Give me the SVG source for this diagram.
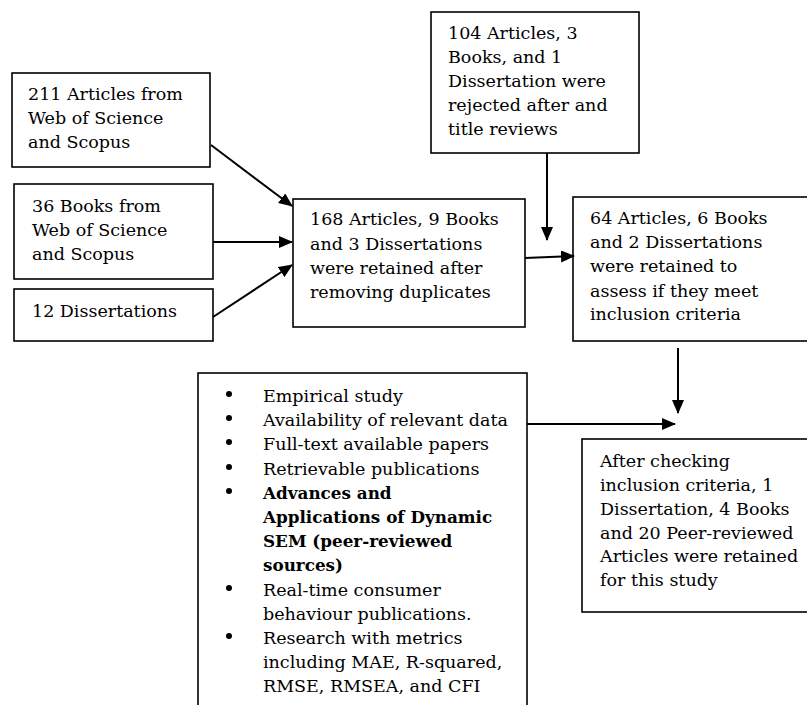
<svg xmlns="http://www.w3.org/2000/svg" width="807" height="705" viewBox="0 0 807 705">
<style>
.box{fill:#fff;stroke:#000;stroke-width:1.6}
.t{font-family:"DejaVu Serif","Liberation Serif",serif;font-size:17.5px;fill:#000}
.b{font-weight:bold;font-size:16.8px}
.c{stroke:#000;stroke-width:2;fill:none}
</style>
<defs>
<marker id="ah" markerUnits="userSpaceOnUse" markerWidth="14" markerHeight="12" refX="13" refY="6" orient="auto">
<path d="M0,0 L14,6 L0,12 Z" fill="#000"/>
</marker>
</defs>
<rect width="807" height="705" fill="#fff"/>
<g id="n-articles">
<rect class="box" x="12" y="73" width="198" height="94"/>
<text class="t" x="28" y="100">211 Articles from</text>
<text class="t" x="28" y="124">Web of Science</text>
<text class="t" x="28" y="148">and Scopus</text>
</g>
<g id="n-books">
<rect class="box" x="14" y="184" width="199" height="95"/>
<text class="t" x="32" y="212">36 Books from</text>
<text class="t" x="32" y="236">Web of Science</text>
<text class="t" x="32" y="260">and Scopus</text>
</g>
<g id="n-dissertations">
<rect class="box" x="14" y="289" width="199" height="52"/>
<text class="t" x="32" y="317">12 Dissertations</text>
</g>
<g id="n-retained">
<rect class="box" x="293" y="199" width="232" height="128"/>
<text class="t" x="310" y="225">168 Articles, 9 Books</text>
<text class="t" x="310" y="250">and 3 Dissertations</text>
<text class="t" x="310" y="274">were retained after</text>
<text class="t" x="310" y="298">removing duplicates</text>
</g>
<g id="n-rejected">
<rect class="box" x="431" y="12" width="208" height="141"/>
<text class="t" x="448" y="39">104 Articles, 3</text>
<text class="t" x="448" y="63">Books, and 1</text>
<text class="t" x="448" y="87">Dissertation were</text>
<text class="t" x="448" y="111">rejected after and</text>
<text class="t" x="448" y="135">title reviews</text>
</g>
<g id="n-assess">
<rect class="box" x="573" y="197" width="240" height="144"/>
<text class="t" x="590" y="224">64 Articles, 6 Books</text>
<text class="t" x="590" y="248">and 2 Dissertations</text>
<text class="t" x="590" y="272">were retained to</text>
<text class="t" x="590" y="297">assess if they meet</text>
<text class="t" x="590" y="320">inclusion criteria</text>
</g>
<g id="n-criteria">
<rect class="box" x="198" y="373" width="329" height="340"/>
<g fill="#000">
<circle cx="229" cy="394" r="3"/>
<circle cx="229" cy="418" r="3"/>
<circle cx="229" cy="442" r="3"/>
<circle cx="229" cy="467" r="3"/>
<circle cx="229" cy="491" r="3"/>
<circle cx="229" cy="588" r="3"/>
<circle cx="229" cy="636" r="3"/>
</g>
<text class="t" x="263" y="402">Empirical study</text>
<text class="t" x="263" y="426">Availability of relevant data</text>
<text class="t" x="263" y="450">Full-text available papers</text>
<text class="t" x="263" y="475">Retrievable publications</text>
<text class="t b" x="263" y="499">Advances and</text>
<text class="t b" x="263" y="523">Applications of Dynamic</text>
<text class="t b" x="263" y="547">SEM (peer-reviewed</text>
<text class="t b" x="263" y="571">sources)</text>
<text class="t" x="263" y="596">Real-time consumer</text>
<text class="t" x="263" y="620">behaviour publications.</text>
<text class="t" x="263" y="644">Research with metrics</text>
<text class="t" x="263" y="668">including MAE, R-squared,</text>
<text class="t" x="263" y="692">RMSE, RMSEA, and CFI</text>
</g>
<g id="n-final">
<rect class="box" x="582" y="439" width="231" height="173"/>
<text class="t" x="600" y="467">After checking</text>
<text class="t" x="600" y="491">inclusion criteria, 1</text>
<text class="t" x="600" y="515">Dissertation, 4 Books</text>
<text class="t" x="600" y="539">and 20 Peer-reviewed</text>
<text class="t" x="600" y="562">Articles were retained</text>
<text class="t" x="600" y="586">for this study</text>
</g>
<g id="connectors">
<line class="c" x1="211" y1="145" x2="292" y2="206" marker-end="url(#ah)"/>
<line class="c" x1="213" y1="242" x2="292" y2="242" marker-end="url(#ah)"/>
<line class="c" x1="213" y1="317" x2="292" y2="265" marker-end="url(#ah)"/>
<line class="c" x1="525" y1="258" x2="574" y2="256" marker-end="url(#ah)"/>
<line class="c" x1="547" y1="153" x2="547" y2="240" marker-end="url(#ah)"/>
<line class="c" x1="678" y1="348" x2="678" y2="413" marker-end="url(#ah)"/>
<line class="c" x1="527" y1="424" x2="675" y2="424" marker-end="url(#ah)"/>
</g>
</svg>
